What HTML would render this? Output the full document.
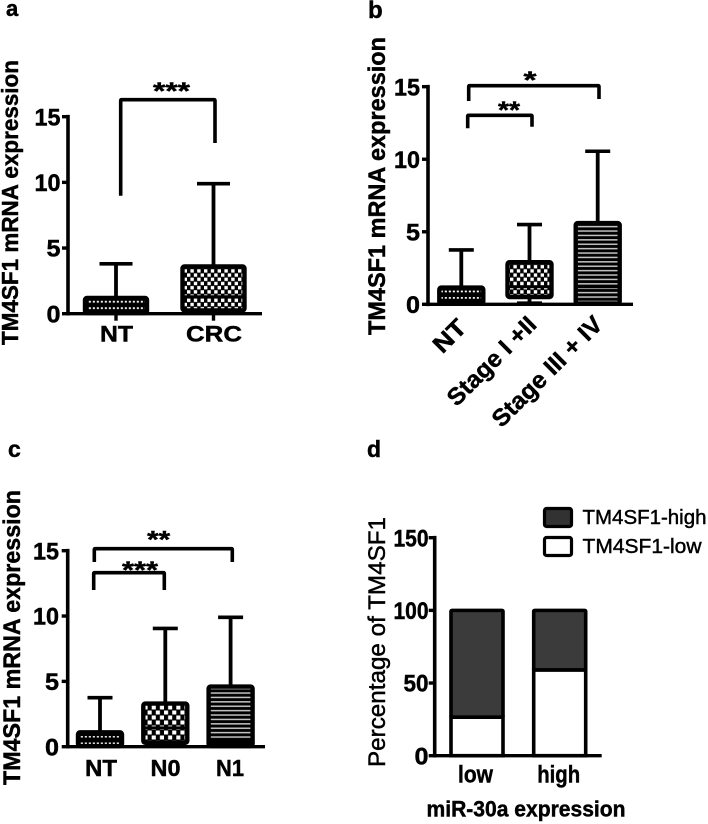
<!DOCTYPE html>
<html lang="en">
<head>
<meta charset="utf-8">
<title>TM4SF1 mRNA expression panels</title>
<style>
html,body{margin:0;padding:0;background:#fff;width:708px;height:824px;overflow:hidden}
svg{display:block}
text{font-family:"Liberation Sans",Arial,sans-serif;fill:#000;stroke:#000;stroke-width:0.45px}
</style>
</head>
<body>
<svg id="figure" xmlns="http://www.w3.org/2000/svg" width="708" height="824" viewBox="0 0 708 824">
  <defs>
    <filter id="soft" x="0" y="0" width="100%" height="100%"><feGaussianBlur stdDeviation="0.28"/></filter>
    <pattern id="fine" patternUnits="userSpaceOnUse" width="4" height="6.4" patternTransform="translate(0 -1.5)">
      <rect width="4" height="6.4" fill="#000"/>
      <rect x="0.8" y="1.6" width="2.1" height="1.7" fill="#fff"/>
    </pattern>
    <pattern id="fineB" patternUnits="userSpaceOnUse" width="4" height="6.4" patternTransform="translate(0 1)">
      <rect width="4" height="6.4" fill="#000"/>
      <rect x="0.8" y="1.6" width="2.1" height="1.7" fill="#fff"/>
    </pattern>
    <pattern id="checkSmall" patternUnits="userSpaceOnUse" width="6.8" height="8.4">
      <rect width="6.8" height="8.4" fill="#000"/>
      <rect x="0" y="0.4" width="3.4" height="3.4" fill="#fff"/>
      <rect x="3.4" y="4.6" width="3.4" height="3.4" fill="#fff"/>
    </pattern>
    <pattern id="checkLarge" patternUnits="userSpaceOnUse" width="8.2" height="10">
      <rect width="8.2" height="10" fill="#000"/>
      <rect x="0" y="0.5" width="4.1" height="4" fill="#fff"/>
      <rect x="4.1" y="5.5" width="4.1" height="4" fill="#fff"/>
    </pattern>
    <pattern id="lines" patternUnits="userSpaceOnUse" width="8" height="4.4">
      <rect width="8" height="4.4" fill="#000"/>
      <rect y="1.5" width="8" height="1.5" fill="#c4c4c4"/>
    </pattern>
  </defs>
  <g id="root" filter="url(#soft)"></g>
</svg>
<script>
// Panel a
const aCategories = ['NT', 'CRC'];
const aMax = [3.8, 9.9];
const aQ3 = [1.2, 3.6];
const aMedian = [0.65, 1.3];
const aQ1 = [0.05, 0.25];
const aMin = [0, 0];
const aTicks = [0, 5, 10, 15];

// Panel b
const bCategories = ['NT', 'Stage I +II', 'Stage III + IV'];
const bMax = [3.75, 5.5, 10.55];
const bQ3 = [1.15, 2.9, 5.6];
const bMedian = [0.6, 1.2, 1.2];
const bQ1 = [0.05, 0.5, 0.05];
const bMin = [0, 0.1, 0];
const bTicks = [0, 5, 10, 15];

// Panel c
const cCategories = ['NT', 'N0', 'N1'];
const cMax = [3.75, 9.05, 9.9];
const cQ3 = [1.1, 3.3, 4.6];
const cMedian = [0.6, 1.45, 0.4];
const cQ1 = [0.05, 0.3, 0.05];
const cMin = [0, 0, 0];
const cTicks = [0, 5, 10, 15];

// Panel d
const dCategories = ['low', 'high'];
const dLow = [26.5, 59];
const dHigh = [73.5, 41];
const dTicks = [0, 50, 100, 150];
const dLegend = ['TM4SF1-high', 'TM4SF1-low'];

const NS = 'http://www.w3.org/2000/svg';
const root = document.getElementById('root');

function make(tag, attrs, parent) {
  const el = document.createElementNS(NS, tag);
  for (const k in attrs) el.setAttribute(k, attrs[k]);
  (parent || root).appendChild(el);
  return el;
}
function line(x1, y1, x2, y2, w) {
  return make('line', {x1: x1, y1: y1, x2: x2, y2: y2, stroke: '#000', 'stroke-width': w || 3.6});
}
function label(str, x, y, size, weight, anchor, len, rot) {
  const attrs = {x: x, y: y, 'font-size': size, 'font-weight': weight, 'text-anchor': anchor};
  if (len) {
    attrs.textLength = len;
    attrs.lengthAdjust = 'spacingAndGlyphs';
  }
  if (rot) attrs.transform = 'rotate(' + rot + ' ' + x + ' ' + y + ')';
  const el = make('text', attrs);
  el.textContent = str;
  return el;
}

function yAxis(axisX, y0, yTop, topValue, ticks, tickWidths, tickEnd, size, tickLen) {
  const scale = v => y0 - v * (y0 - yTop) / topValue;
  const ax = line(axisX, yTop - 1.8, axisX, y0 + 1.8, 3.6);
  
  
  ticks.forEach((t, i) => {
    const tk = line(axisX - tickLen, scale(t), axisX, scale(t), 3.4);
    
    
    const lb = label(String(t), tickEnd, scale(t) + size * 0.36, size, 'bold', 'end', tickWidths[i]);
    
    
  });
  return scale;
}

function boxPanel(cfg) {
  const y = yAxis(cfg.axisX, cfg.y0, cfg.yTop, 15, cfg.ticks, cfg.tickWidths, cfg.tickEnd, cfg.tickSize, 6);
  const xPos = i => cfg.firstX + cfg.step * i;
  const half = cfg.boxW / 2;
  cfg.categories.forEach((c, i) => {
    const cx = xPos(i);
    const whisker = line(cx, y(cfg.max[i]), cx, y(cfg.min[i]), 3.8);
    
    
    const cap = line(cx - cfg.capW / 2, y(cfg.max[i]), cx + cfg.capW / 2, y(cfg.max[i]), 3.6);
    
    
    if (cfg.min[i] > 0) {
      const lowCap = line(cx - cfg.capW / 2, y(cfg.min[i]), cx + cfg.capW / 2, y(cfg.min[i]), 3);
      
      
    }
    const box = make('rect', {
      x: cx - half, y: y(cfg.q3[i]), width: cfg.boxW, height: y(cfg.q1[i]) - y(cfg.q3[i]),
      rx: 2, fill: 'url(#' + cfg.patterns[i] + ')', stroke: '#000', 'stroke-width': 4.4
    });
    
    
    const med = line(cx - half, y(cfg.median[i]), cx + half, y(cfg.median[i]), 2.8);
    
    
    if (cfg.catTick) {
      const tk = line(cx, cfg.y0, cx, cfg.y0 + cfg.catTick, 3.4);
      
      
    }
  });
  const xa = line(cfg.axisX, cfg.y0, cfg.xEnd, cfg.y0, 3.4);
  
  
}

function bracket(lx, ly, rx, ry, top, stars, sx, sy, slen) {
  const p = make('path', {
    d: 'M' + lx + ' ' + ly + 'V' + (top + 1) + 'Q' + lx + ' ' + top + ' ' + (lx + 1) + ' ' + top + 'H' + (rx - 1) + 'Q' + rx + ' ' + top + ' ' + rx + ' ' + (top + 1) + 'V' + ry,
    fill: 'none', stroke: '#000', 'stroke-width': 3.6
  });
  
  
  const t = label(stars, sx, sy, 24, 'bold', 'middle', slen);
  
  
}

/* ---------- panel letters ---------- */
const la = label('a', 6, 16, 22, 'bold', 'start');


const lb = label('b', 368, 18, 24, 'bold', 'start');


const lc = label('c', 8, 457, 23, 'bold', 'start');


const ld = label('d', 367, 457, 23, 'bold', 'start');



/* ---------- panel a ---------- */
boxPanel({
  categories: aCategories, max: aMax, q3: aQ3, median: aMedian, q1: aQ1, min: aMin, ticks: aTicks,
  axisX: 68, y0: 313.7, yTop: 116.7, xEnd: 262, firstX: 116, step: 97.5, boxW: 62, capW: 33,
  patterns: ['fine', 'checkSmall'], tickEnd: 60.5, tickSize: 24, tickWidths: [14, 14, 26, 26], catTick: 7
});
const aTitle = label('TM4SF1 mRNA expression', 18, 345, 23, 'bold', 'start', 285, -90);


const aNT = label(aCategories[0], 116.5, 341.5, 22, 'bold', 'middle', 33);


const aCRC = label(aCategories[1], 214, 341.5, 22, 'bold', 'middle', 56);


bracket(120.7, 195.7, 215, 143, 99.7, '***', 171.5, 99, 37);

/* ---------- panel b ---------- */
boxPanel({
  categories: bCategories, max: bMax, q3: bQ3, median: bMedian, q1: bQ1, min: bMin, ticks: bTicks,
  axisX: 428, y0: 304.3, yTop: 86.7, xEnd: 633, firstX: 461.3, step: 68.2, boxW: 44, capW: 25,
  patterns: ['fineB', 'checkSmall', 'lines'], tickEnd: 420, tickSize: 24, tickWidths: [14, 14, 26, 26], catTick: 0
});
const bTitle = label('TM4SF1 mRNA expression', 385, 335, 24, 'bold', 'start', 298, -90);


const bNT = label(bCategories[0], 468, 329, 24, 'bold', 'end', 36, -45);


const bS1 = label(bCategories[1], 538, 326, 24, 'bold', 'end', 115, -45);


const bS3 = label(bCategories[2], 604, 326, 24, 'bold', 'end', 145, -45);


bracket(468.7, 101, 599, 99, 85.7, '*', 530, 88, 13);
bracket(467.7, 128.3, 532, 126.7, 115.3, '**', 509, 118, 22);

/* ---------- panel c ---------- */
boxPanel({
  categories: cCategories, max: cMax, q3: cQ3, median: cMedian, q1: cQ1, min: cMin, ticks: cTicks,
  axisX: 67.7, y0: 746.7, yTop: 550.7, xEnd: 265, firstX: 100, step: 65.3, boxW: 44, capW: 25,
  patterns: ['fine', 'checkLarge', 'lines'], tickEnd: 59, tickSize: 24, tickWidths: [14, 14, 26, 26], catTick: 0
});
const cTitle = label('TM4SF1 mRNA expression', 20, 785, 24, 'bold', 'start', 295, -90);


const cNT = label(cCategories[0], 101, 776, 23, 'bold', 'middle', 32);


const cN0 = label(cCategories[1], 165.5, 776, 23, 'bold', 'middle', 30);


const cN1 = label(cCategories[2], 230, 776, 23, 'bold', 'middle', 28);


bracket(94.3, 562, 232.3, 562, 548.7, '**', 158.7, 547.5, 23);
bracket(93.7, 590, 164.3, 590, 572.7, '***', 140, 578, 36);

/* ---------- panel d ---------- */
const dY0 = 755.7;
const dY = yAxis(434.7, dY0, 537.7, 150, dTicks, [14, 25, 35, 35], 428.5, 24, 6);
const dX = i => 477 + 82.7 * i;
const dBarW = 52;
dCategories.forEach((c, i) => {
  const cx = dX(i);
  const low = make('rect', {
    x: cx - dBarW / 2, y: dY(dLow[i]), width: dBarW, height: dY0 - dY(dLow[i]),
    fill: '#fff', stroke: '#000', 'stroke-width': 3.6
  });
  
  
  const high = make('rect', {
    x: cx - dBarW / 2, y: dY(dLow[i] + dHigh[i]), width: dBarW, height: dY(dLow[i]) - dY(dLow[i] + dHigh[i]),
    rx: 1, fill: '#3a3a3a', stroke: '#000', 'stroke-width': 3.6
  });
  
  
  const lab = label(c, cx - 1.5 + i * 0.5, 782.5, 24, 'bold', 'middle', i === 0 ? 35 : 43);
  
  
});
const dAxis = line(434.7, dY0, 601.7, dY0, 3.4);


const dTitle = label('Percentage of TM4SF1', 385, 767, 24, 'normal', 'start', 250, -90);


const dXTitle = label('miR-30a expression', 526, 816.5, 22, 'bold', 'middle', 199);



const swHigh = make('rect', {x: 544.5, y: 508.5, width: 27, height: 18, rx: 2, fill: '#333', stroke: '#000', 'stroke-width': 3.2});


const swLow = make('rect', {x: 544.5, y: 537.5, width: 27, height: 18, rx: 2, fill: '#fff', stroke: '#000', 'stroke-width': 3.2});


const lgHigh = label(dLegend[0], 582.5, 524, 20, 'normal', 'start', 124);


const lgLow = label(dLegend[1], 582.5, 553, 20, 'normal', 'start', 119);


</script>
</body>
</html>
